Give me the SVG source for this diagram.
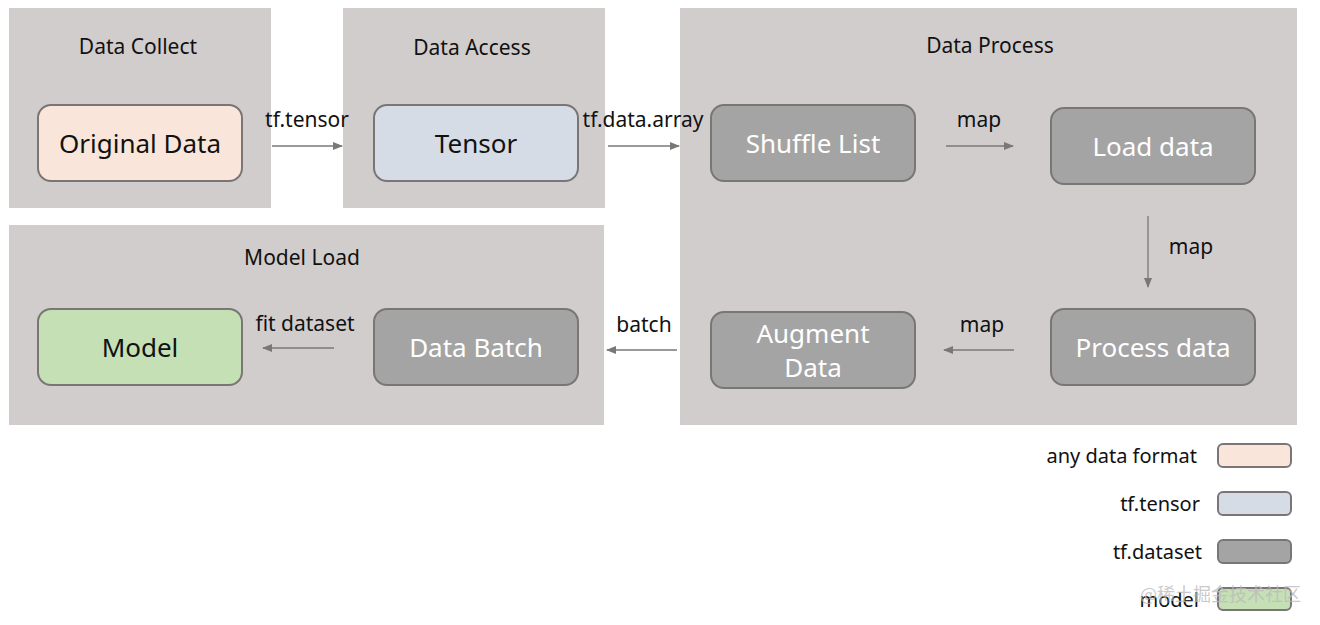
<svg xmlns="http://www.w3.org/2000/svg" width="1320" height="625" viewBox="0 0 1320 625">
<defs>
<marker id="ah" markerWidth="10" markerHeight="8" refX="9" refY="4" orient="auto" markerUnits="userSpaceOnUse">
<path d="M0,0 L10,4 L0,8 Z" fill="#7a7777"/>
</marker>
<style>
.cont{fill:#d1cdcd}
.title{font-family:"Noto Sans","Liberation Sans",sans-serif;font-size:21px;fill:#111;text-anchor:middle}
.node{stroke:#7a7676;stroke-width:2}
.ntext{font-family:"Noto Sans","Liberation Sans",sans-serif;font-size:26px;text-anchor:middle}
.dark{fill:#111}
.light{fill:#fff}
.lbl{font-family:"Noto Sans","Liberation Sans",sans-serif;font-size:21px;fill:#111;text-anchor:middle}
.conn{stroke:#7a7777;stroke-width:1.3;fill:none;marker-end:url(#ah)}
.leg{font-family:"Noto Sans","Liberation Sans",sans-serif;font-size:20px;fill:#111;text-anchor:end}
.orig{fill:#f9e5d9}
.tens{fill:#d6dce5}
.ds{fill:#a5a4a4}
.mod{fill:#c5e0b4}
</style>
</defs>
<rect width="1320" height="625" fill="#fff"/>
<g id="containers">
<g id="data-collect"><rect class="cont" x="9" y="8" width="262" height="200"/><text class="title" x="138" y="54">Data Collect</text></g>
<g id="data-access"><rect class="cont" x="343" y="8" width="262" height="200"/><text class="title" x="472" y="55">Data Access</text></g>
<g id="data-process"><rect class="cont" x="680" y="8" width="617" height="417"/><text class="title" x="990" y="53">Data Process</text></g>
<g id="model-load"><rect class="cont" x="9" y="225" width="595" height="200"/><text class="title" x="302" y="265">Model Load</text></g>
</g>
<g id="original-data"><rect class="node orig" x="38" y="105" width="204" height="76" rx="13"/><text class="ntext dark" x="140" y="153">Original Data</text></g>
<g id="tensor"><rect class="node tens" x="374" y="105" width="204" height="76" rx="13"/><text class="ntext dark" x="476" y="153">Tensor</text></g>
<g id="shuffle-list"><rect class="node ds" x="711" y="105" width="204" height="76" rx="13"/><text class="ntext light" x="813" y="153">Shuffle List</text></g>
<g id="load-data"><rect class="node ds" x="1051" y="108" width="204" height="76" rx="13"/><text class="ntext light" x="1153" y="156">Load data</text></g>
<g id="process-data"><rect class="node ds" x="1051" y="309" width="204" height="76" rx="13"/><text class="ntext light" x="1153" y="357">Process data</text></g>
<g id="augment-data"><rect class="node ds" x="711" y="312" width="204" height="76" rx="13"/><text class="ntext light" x="813" y="343">Augment</text><text class="ntext light" x="813" y="377">Data</text></g>
<g id="data-batch"><rect class="node ds" x="374" y="309" width="204" height="76" rx="13"/><text class="ntext light" x="476" y="357">Data Batch</text></g>
<g id="model"><rect class="node mod" x="38" y="309" width="204" height="76" rx="13"/><text class="ntext dark" x="140" y="357">Model</text></g>
<g id="connectors">
<line class="conn" x1="272" y1="146" x2="342" y2="146"/>
<text class="lbl" x="307" y="127">tf.tensor</text>
<line class="conn" x1="608" y1="146" x2="679" y2="146"/>
<text class="lbl" x="643" y="127">tf.data.array</text>
<line class="conn" x1="946" y1="146" x2="1013" y2="146"/>
<text class="lbl" x="979" y="127">map</text>
<line class="conn" x1="1148" y1="216" x2="1148" y2="287"/>
<text class="lbl" x="1191" y="254">map</text>
<line class="conn" x1="1014" y1="350" x2="944" y2="350"/>
<text class="lbl" x="982" y="332">map</text>
<line class="conn" x1="677" y1="350" x2="607" y2="350"/>
<text class="lbl" x="644" y="332">batch</text>
<line class="conn" x1="334" y1="348" x2="263" y2="348"/>
<text class="lbl" x="305" y="331">fit dataset</text>
</g>
<g id="legend">
<g id="legend-any"><text class="leg" x="1197" y="463">any data format</text><rect class="node orig" x="1218" y="444" width="73" height="23" rx="5"/></g>
<g id="legend-tensor"><text class="leg" x="1200" y="511">tf.tensor</text><rect class="node tens" x="1218" y="492" width="73" height="23" rx="5"/></g>
<g id="legend-dataset"><text class="leg" x="1202" y="559">tf.dataset</text><rect class="node ds" x="1218" y="540" width="73" height="23" rx="5"/></g>
<g id="legend-model"><text class="leg" x="1199" y="607">model</text><rect class="node mod" x="1218" y="588" width="73" height="22" rx="5"/></g>
</g>
<text x="1140" y="601" font-family="'Noto Sans CJK SC',sans-serif" font-size="18" fill="#bbb" fill-opacity="0.8">@稀土掘金技术社区</text>
</svg>
